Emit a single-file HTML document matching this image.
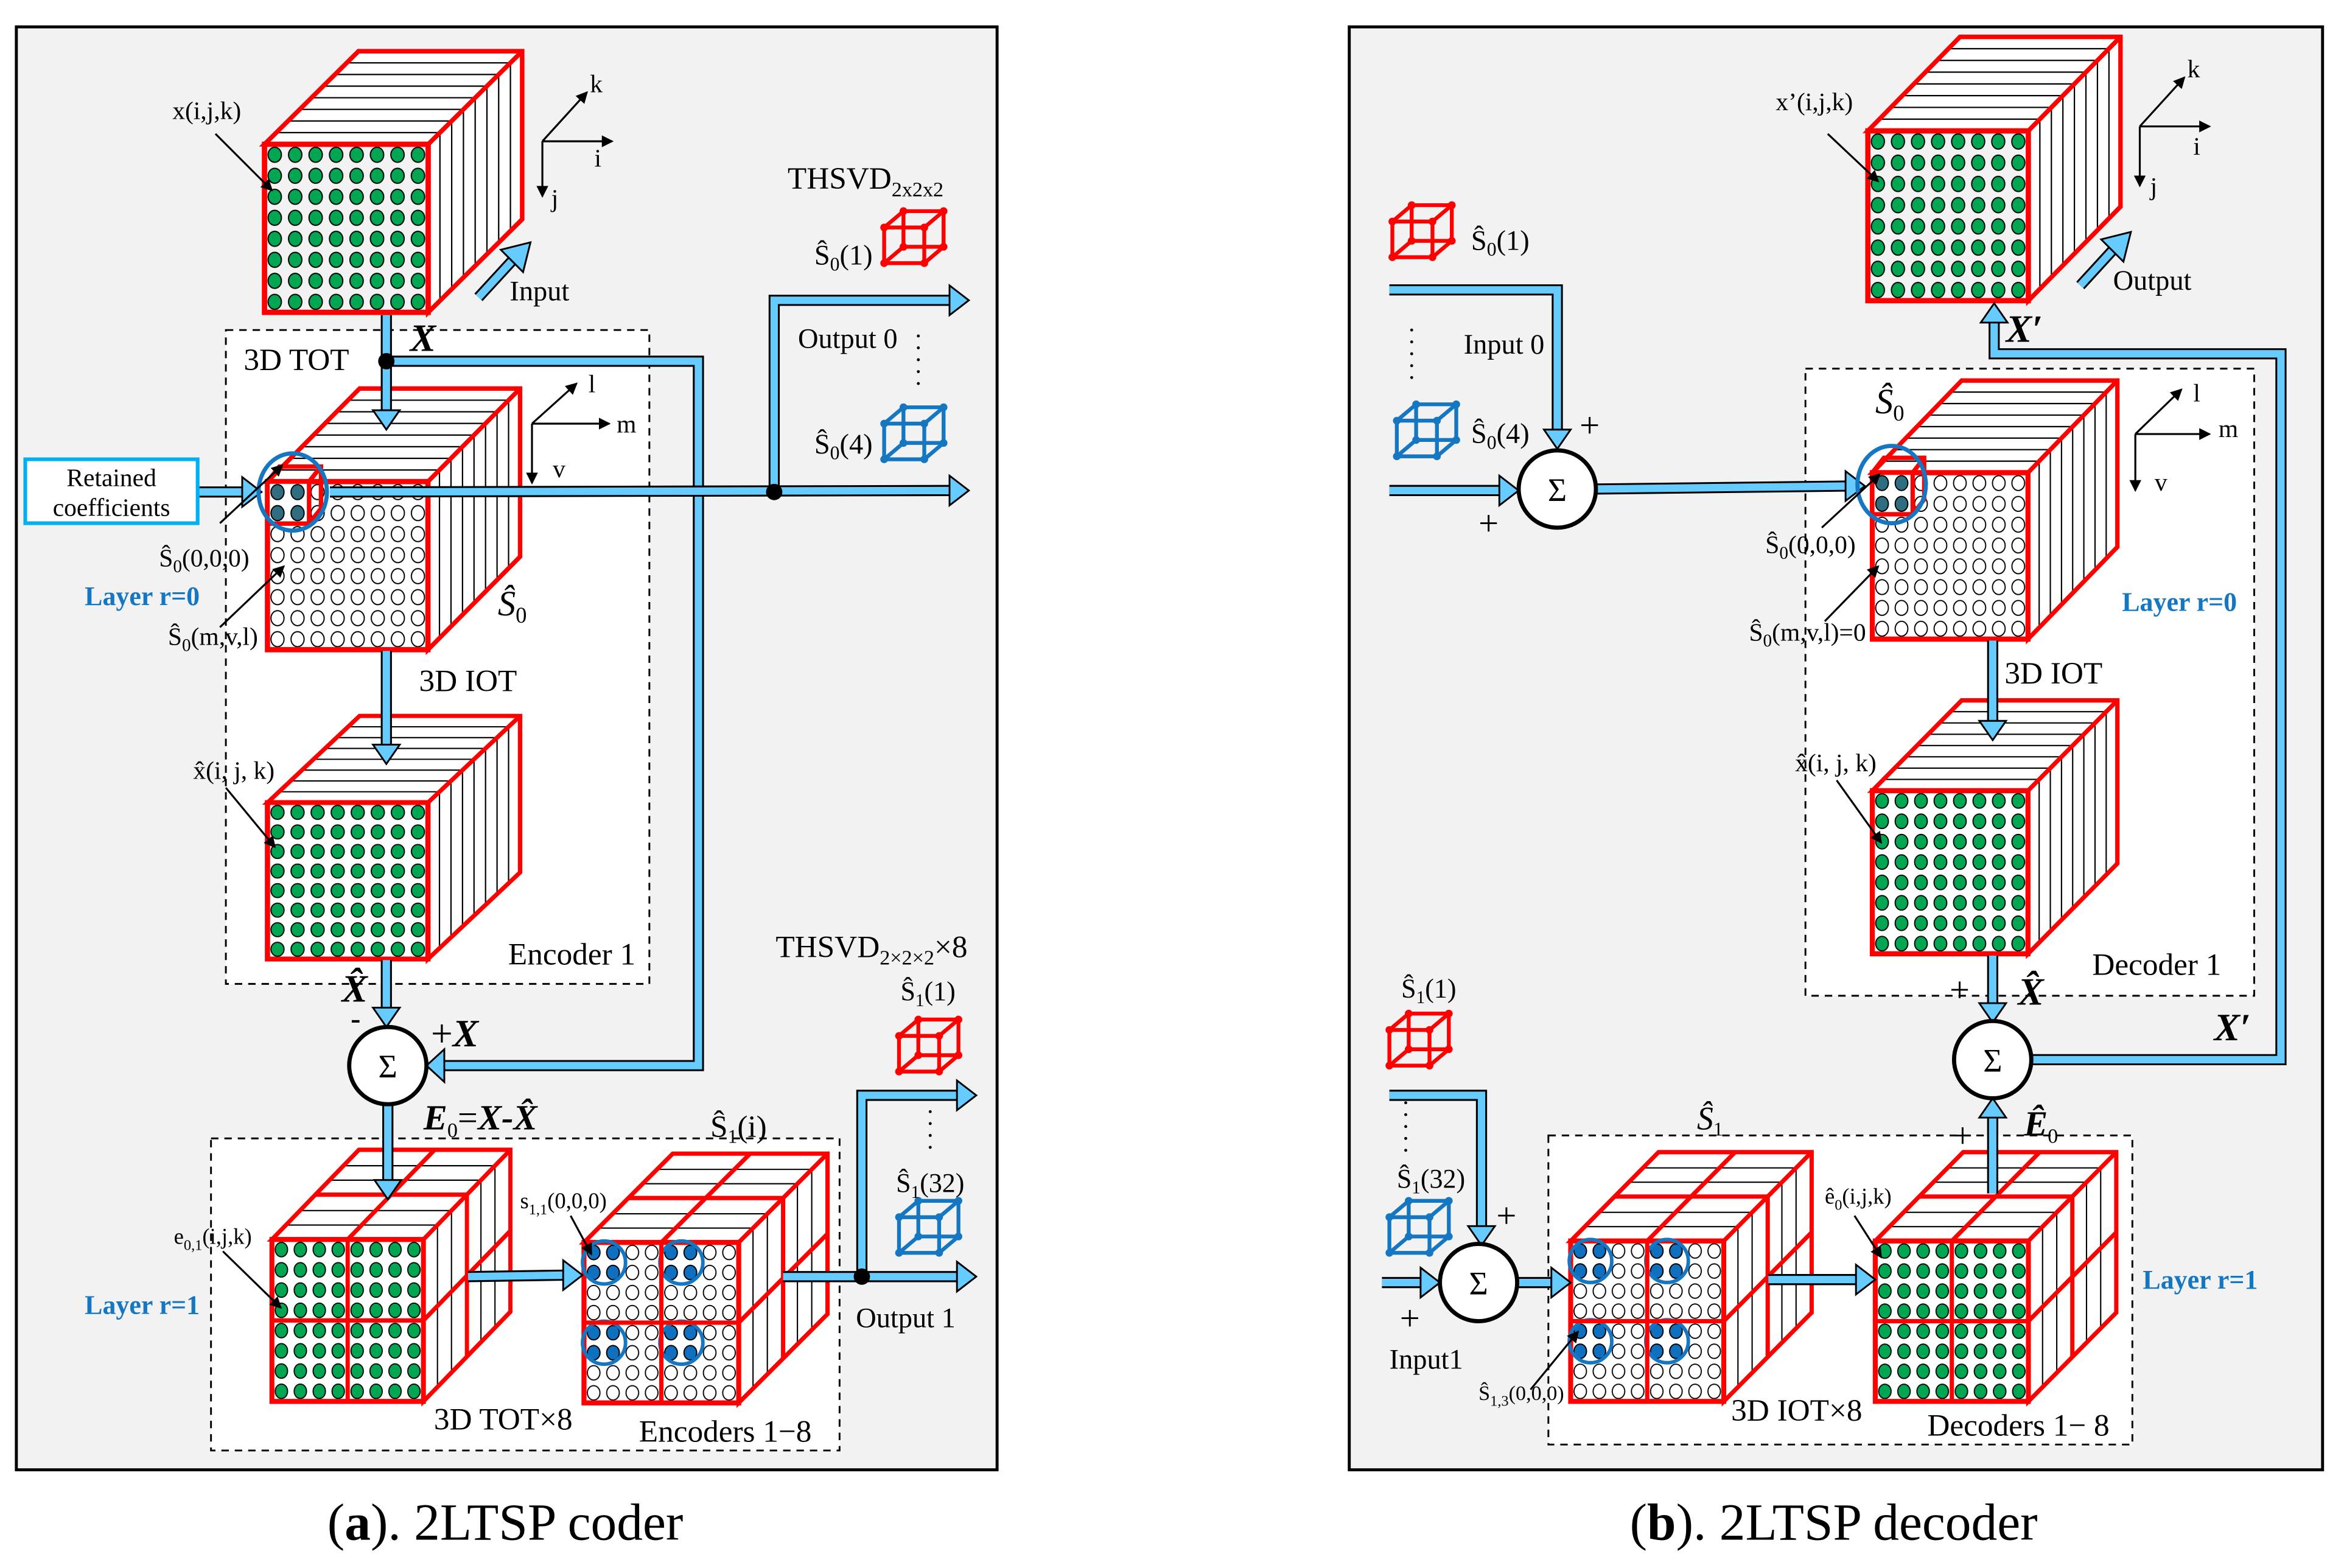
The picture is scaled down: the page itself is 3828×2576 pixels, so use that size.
<!DOCTYPE html>
<html><head><meta charset="utf-8">
<style>
html,body{margin:0;padding:0;background:#fff;}
svg{display:block;}
text{font-family:"Liberation Serif",serif;fill:#000;}
.b1{fill:none;stroke:#000;stroke-width:7.5;stroke-linejoin:miter;}
.b2{fill:none;stroke:#66ccff;stroke-width:5;stroke-linejoin:miter;}
.hd{fill:#66ccff;stroke:#000;stroke-width:1.2;}
.red{stroke:#f00;stroke-width:3;fill:none;}
.sl{stroke:#000;stroke-width:0.9;}
.it{font-style:italic;font-weight:bold;}
.blue{fill:#1577c2;font-weight:bold;}
</style></head>
<body>
<svg width="3828" height="2576" viewBox="0 0 1568 1055" xmlns="http://www.w3.org/2000/svg">
<defs>
<pattern id="pg" width="13.5" height="14" patternUnits="userSpaceOnUse">
<ellipse cx="6.75" cy="7" rx="4.4" ry="5" fill="#00a651" stroke="#000" stroke-width="0.8"/></pattern>
<pattern id="pw" width="13.5" height="14" patternUnits="userSpaceOnUse">
<ellipse cx="6.75" cy="7" rx="4.4" ry="5" fill="#fff" stroke="#000" stroke-width="0.8"/></pattern>
<g id="body">
<polygon points="108,0 170,-62 170,50 108,112" fill="#fff"/>
<polygon points="0,0 62,-62 170,-62 108,0" fill="#fff"/>
<g class="sl">
<line x1="7.75" y1="-7.75" x2="115.75" y2="-7.75"/><line x1="15.5" y1="-15.5" x2="123.5" y2="-15.5"/>
<line x1="23.25" y1="-23.25" x2="131.25" y2="-23.25"/><line x1="31" y1="-31" x2="139" y2="-31"/>
<line x1="38.75" y1="-38.75" x2="146.75" y2="-38.75"/><line x1="46.5" y1="-46.5" x2="154.5" y2="-46.5"/>
<line x1="54.25" y1="-54.25" x2="162.25" y2="-54.25"/>
<line x1="115.75" y1="-7.75" x2="115.75" y2="104.25"/><line x1="123.5" y1="-15.5" x2="123.5" y2="96.5"/>
<line x1="131.25" y1="-23.25" x2="131.25" y2="88.75"/><line x1="139" y1="-31" x2="139" y2="81"/>
<line x1="146.75" y1="-38.75" x2="146.75" y2="73.25"/><line x1="154.5" y1="-46.5" x2="154.5" y2="65.5"/>
<line x1="162.25" y1="-54.25" x2="162.25" y2="57.75"/>
</g>
<polygon class="red" points="0,0 62,-62 170,-62 170,50 108,112 108,0"/>
<line class="red" x1="108" y1="0" x2="170" y2="-62"/>
</g>
<g id="cg"><use href="#body"/><rect x="0" y="0" width="108" height="112" fill="url(#pg)" stroke="#f00" stroke-width="3.5"/></g>
<g id="cs"><use href="#body"/><rect x="0" y="0" width="108" height="112" fill="url(#pw)" stroke="#f00" stroke-width="3.5"/>
<rect x="1" y="1" width="26" height="27" fill="#fff"/>
<g fill="#2e6e80" stroke="#000" stroke-width="0.8">
<ellipse cx="6.75" cy="7" rx="4.4" ry="5"/><ellipse cx="20.25" cy="7" rx="4.4" ry="5"/>
<ellipse cx="6.75" cy="21" rx="4.4" ry="5"/><ellipse cx="20.25" cy="21" rx="4.4" ry="5"/></g>
<polygon class="red" points="0,0 8,-10 36,-10 36,18 28,28 0,28"/>
<line class="red" x1="28" y1="0" x2="28" y2="28"/><line class="red" x1="0" y1="0" x2="28" y2="0"/><line class="red" x1="28" y1="0" x2="36" y2="-10"/>
</g>
<g id="qbody">
<polygon points="108,0 170,-62 170,50 108,112" fill="#fff"/>
<polygon points="0,0 62,-62 170,-62 108,0" fill="#fff"/>
<g class="sl">
<line x1="10" y1="-10" x2="118" y2="-10"/><line x1="20" y1="-20" x2="128" y2="-20"/>
<line x1="41" y1="-41" x2="149" y2="-41"/><line x1="51" y1="-51" x2="159" y2="-51"/>
<line x1="118" y1="-10" x2="118" y2="102"/><line x1="128" y1="-20" x2="128" y2="92"/>
<line x1="149" y1="-41" x2="149" y2="71"/><line x1="159" y1="-51" x2="159" y2="61"/>
</g>
<polygon class="red" points="0,0 62,-62 170,-62 170,50 108,112 108,0"/>
<line class="red" x1="108" y1="0" x2="170" y2="-62"/>
<polyline class="red" points="31,-31 139,-31 139,81"/>
<line class="red" x1="54" y1="0" x2="116" y2="-62"/>
<line class="red" x1="108" y1="56" x2="170" y2="-6"/>
</g>
<g id="qg"><use href="#qbody"/><rect x="0" y="0" width="108" height="112" fill="url(#pg)" stroke="#f00" stroke-width="3.5"/>
<line class="red" x1="54" y1="0" x2="54" y2="112"/><line class="red" x1="0" y1="56" x2="108" y2="56"/></g>
<g id="qw"><use href="#qbody"/><rect x="0" y="0" width="108" height="112" fill="url(#pw)" stroke="#f00" stroke-width="3.5"/>
<g fill="#1070c0" stroke="#000" stroke-width="0.8">
<ellipse cx="6.75" cy="7" rx="4.4" ry="5"/><ellipse cx="20.25" cy="7" rx="4.4" ry="5"/><ellipse cx="6.75" cy="21" rx="4.4" ry="5"/><ellipse cx="20.25" cy="21" rx="4.4" ry="5"/>
<ellipse cx="60.75" cy="7" rx="4.4" ry="5"/><ellipse cx="74.25" cy="7" rx="4.4" ry="5"/><ellipse cx="60.75" cy="21" rx="4.4" ry="5"/><ellipse cx="74.25" cy="21" rx="4.4" ry="5"/>
<ellipse cx="6.75" cy="63" rx="4.4" ry="5"/><ellipse cx="20.25" cy="63" rx="4.4" ry="5"/><ellipse cx="6.75" cy="77" rx="4.4" ry="5"/><ellipse cx="20.25" cy="77" rx="4.4" ry="5"/>
<ellipse cx="60.75" cy="63" rx="4.4" ry="5"/><ellipse cx="74.25" cy="63" rx="4.4" ry="5"/><ellipse cx="60.75" cy="77" rx="4.4" ry="5"/><ellipse cx="74.25" cy="77" rx="4.4" ry="5"/>
</g>
<g fill="none" stroke="#1577c2" stroke-width="2.5">
<ellipse cx="14" cy="14" rx="15" ry="15"/><ellipse cx="68" cy="14" rx="15" ry="15"/>
<ellipse cx="14" cy="70" rx="15" ry="15"/><ellipse cx="68" cy="70" rx="15" ry="15"/></g>
<line class="red" x1="54" y1="0" x2="54" y2="112"/><line class="red" x1="0" y1="56" x2="108" y2="56"/></g>
<g id="wc">
<path fill="none" d="M0,11 H27 V35 H0 Z M13,0 H40 V24 H13 Z M0,11 L13,0 M27,11 L40,0 M27,35 L40,24 M0,35 L13,24" stroke-width="2.6"/>
<g stroke="none"><circle cx="0" cy="11" r="2.6"/><circle cx="27" cy="11" r="2.6"/><circle cx="27" cy="35" r="2.6"/><circle cx="0" cy="35" r="2.6"/>
<circle cx="13" cy="0" r="2.6"/><circle cx="40" cy="0" r="2.6"/><circle cx="40" cy="24" r="2.6"/><circle cx="13" cy="24" r="2.6"/></g>
</g>
<marker id="ah" markerWidth="8" markerHeight="8" refX="7" refY="4" orient="auto" markerUnits="userSpaceOnUse"><path d="M0,0 L8,4 L0,8 Z" fill="#000"/></marker>
</defs>

<rect width="1568" height="1055" fill="#fff"/>
<rect x="11" y="18" width="660" height="971" fill="#f2f2f2" stroke="#000" stroke-width="2"/>
<rect x="908" y="18" width="655" height="971" fill="#f2f2f2" stroke="#000" stroke-width="2"/>
<rect x="152" y="222" width="285" height="440" fill="#fff" stroke="#000" stroke-width="1.2" stroke-dasharray="5,4"/>
<rect x="142" y="766" width="423" height="210" fill="#fff" stroke="#000" stroke-width="1.2" stroke-dasharray="5,4"/>
<rect x="1215" y="248" width="302" height="422" fill="#fff" stroke="#000" stroke-width="1.2" stroke-dasharray="5,4"/>
<rect x="1042" y="764" width="393" height="208" fill="#fff" stroke="#000" stroke-width="1.2" stroke-dasharray="5,4"/>

<!-- ===== PANEL A ===== -->
<use href="#cg" transform="translate(178,97) scale(1.02,1.01)"/>
<use href="#cs" transform="translate(180,324) scale(1,1.01)"/>
<use href="#cg" transform="translate(180,540) scale(1,0.94)"/>
<use href="#qg" transform="translate(183,834) scale(0.944,0.973)"/>
<use href="#qw" transform="translate(393,836) scale(0.964,0.964)"/>

<g>
<polyline class="b1" points="260,212 260,277"/><polyline class="b2" points="260,212 260,277"/>
<polygon class="hd" points="251,276 269,276 260,289"/>
<polyline class="b1" points="260,243 470,243 470,717 298,717"/><polyline class="b2" points="260,243 470,243 470,717 298,717"/>
<polygon class="hd" points="299,706 299,728 287,717"/>
<circle cx="260" cy="243" r="5.5"/>
<polyline class="b1" points="134,331 164,331"/><polyline class="b2" points="134,331 164,331"/>
<polygon class="hd" points="163,321 163,341 176,331"/>
<polyline class="b1" points="222,331 640,330"/><polyline class="b2" points="222,331 640,330"/>
<polygon class="hd" points="639,320 639,340 652,330"/>
<polyline class="b1" points="521,331 521,202 640,202"/><polyline class="b2" points="521,331 521,202 640,202"/>
<polygon class="hd" points="639,192 639,212 652,202"/>
<circle cx="521" cy="331" r="5.5"/>
<polyline class="b1" points="260,438 260,502"/><polyline class="b2" points="260,438 260,502"/>
<polygon class="hd" points="251,501 269,501 260,514"/>
<polyline class="b1" points="260,646 260,679"/><polyline class="b2" points="260,646 260,679"/>
<polygon class="hd" points="251,678 269,678 260,691"/>
<polyline class="b1" points="261,743 261,795"/><polyline class="b2" points="261,743 261,795"/>
<polygon class="hd" points="252,794 270,794 261,807"/>
<polyline class="b1" points="315,859 380,858"/><polyline class="b2" points="315,859 380,858"/>
<polygon class="hd" points="379,848 379,868 392,858"/>
<polyline class="b1" points="527,859 645,859"/><polyline class="b2" points="527,859 645,859"/>
<polygon class="hd" points="644,849 644,869 657,859"/>
<polyline class="b1" points="580,859 580,737 645,737"/><polyline class="b2" points="580,859 580,737 645,737"/>
<polygon class="hd" points="644,727 644,747 657,737"/>
<circle cx="580" cy="859" r="5.5"/>
</g>
<ellipse cx="197" cy="331" rx="23" ry="26" fill="none" stroke="#1577c2" stroke-width="2.8"/>
<circle cx="261" cy="717" r="26" fill="#fff" stroke="#000" stroke-width="2.8"/>
<text x="261" y="725" font-size="22" text-anchor="middle">Σ</text>
<rect x="17" y="309" width="116" height="43" fill="#fff" stroke="#00b0f0" stroke-width="2.5"/>
<text x="75" y="327" font-size="17" text-anchor="middle">Retained</text>
<text x="75" y="347" font-size="17" text-anchor="middle">coefficients</text>

<use href="#wc" transform="translate(595,142)" fill="#f00" stroke="#f00"/>
<use href="#wc" transform="translate(595,274)" fill="#1577c2" stroke="#1577c2"/>
<use href="#wc" transform="translate(605,686)" fill="#f00" stroke="#f00"/>
<use href="#wc" transform="translate(605,808)" fill="#1577c2" stroke="#1577c2"/>
<g fill="#000"><circle cx="618" cy="226" r="1"/><circle cx="618" cy="234" r="1"/><circle cx="618" cy="242" r="1"/><circle cx="618" cy="250" r="1"/><circle cx="618" cy="258" r="1"/>
<circle cx="626" cy="748" r="1"/><circle cx="626" cy="756" r="1"/><circle cx="626" cy="764" r="1"/><circle cx="626" cy="772" r="1"/></g>

<g stroke="#000" stroke-width="1.3" marker-end="url(#ah)">
<line x1="365" y1="95" x2="395" y2="62"/><line x1="365" y1="95" x2="412" y2="95"/><line x1="365" y1="95" x2="365" y2="132"/>
<line x1="358" y1="285" x2="388" y2="258"/><line x1="358" y1="285" x2="410" y2="285"/><line x1="358" y1="285" x2="358" y2="325"/>
<line x1="145" y1="90" x2="183" y2="128"/>
<line x1="148" y1="352" x2="190" y2="313"/>
<line x1="148" y1="422" x2="191" y2="381"/>
<line x1="152" y1="530" x2="185" y2="570"/>
<line x1="150" y1="842" x2="189" y2="880"/>
<line x1="384" y1="818" x2="398" y2="844"/>
</g>
<line x1="322" y1="200" x2="345" y2="175" stroke="#000" stroke-width="7.5"/>
<line x1="322" y1="200" x2="345" y2="175" stroke="#66ccff" stroke-width="5"/>
<polygon class="hd" points="337,168 357,163 352,183"/>

<g font-size="17">
<text x="116" y="80">x(i,j,k)</text>
<text x="397" y="62">k</text><text x="400" y="112">i</text><text x="371" y="139">j</text>
<text x="343" y="202" font-size="19">Input</text>
<text x="530" y="127" font-size="21">THSVD<tspan font-size="14" dy="5">2x2x2</tspan></text>
<text x="548" y="178" font-size="19">Ŝ<tspan font-size="13" dy="4">0</tspan><tspan dy="-4">(1)</tspan></text>
<text x="537" y="234" font-size="19">Output 0</text>
<text x="548" y="305" font-size="19">Ŝ<tspan font-size="13" dy="4">0</tspan><tspan dy="-4">(4)</tspan></text>
<text x="164" y="249" font-size="21">3D TOT</text>
<text x="276" y="236" font-size="26" class="it">X</text>
<text x="396" y="264">l</text><text x="415" y="291">m</text><text x="372" y="321">v</text>
<text x="107" y="381">Ŝ<tspan font-size="12" dy="4">0</tspan><tspan dy="-4">(0,0,0)</tspan></text>
<text x="57" y="407" class="blue" font-size="18">Layer r=0</text>
<text x="113" y="434">Ŝ<tspan font-size="12" dy="4">0</tspan><tspan dy="-4">(m,v,l)</tspan></text>
<text x="335" y="414" font-size="24" font-style="italic">Ŝ<tspan font-size="15" dy="5" font-style="normal">0</tspan></text>
<text x="282" y="465" font-size="21">3D IOT</text>
<text x="130" y="524">x̂(i, j, k)</text>
<text x="342" y="649" font-size="21">Encoder 1</text>
<text x="230" y="674" font-size="26" class="it">X̂</text>
<text x="236" y="692" font-size="20" font-weight="bold">-</text>
<text x="290" y="704" font-size="26" class="it"><tspan font-style="normal" font-weight="normal">+</tspan>X</text>
<text x="285" y="760" font-size="24" class="it">E<tspan font-size="14" dy="5" font-weight="normal" font-style="normal">0</tspan><tspan dy="-5" font-weight="normal" font-style="normal">=</tspan>X-X̂</text>
<text x="522" y="644" font-size="21">THSVD<tspan font-size="14" dy="5">2×2×2</tspan><tspan dy="-5">×8</tspan></text>
<text x="606" y="673" font-size="18">Ŝ<tspan font-size="12" dy="4">1</tspan><tspan dy="-4">(1)</tspan></text>
<text x="603" y="802" font-size="18">Ŝ<tspan font-size="12" dy="4">1</tspan><tspan dy="-4">(32)</tspan></text>
<text x="576" y="893" font-size="19">Output 1</text>
<text x="478" y="765" font-size="21">Ŝ<tspan font-size="13" dy="4">1</tspan><tspan dy="-4">(i)</tspan></text>
<text x="117" y="837" font-size="15">e<tspan font-size="10" dy="4">0,1</tspan><tspan dy="-4">(i,j,k)</tspan></text>
<text x="350" y="813" font-size="15">s<tspan font-size="10" dy="4">1,1</tspan><tspan dy="-4">(0,0,0)</tspan></text>
<text x="57" y="884" class="blue" font-size="18">Layer r=1</text>
<text x="292" y="962" font-size="21">3D TOT×8</text>
<text x="430" y="970" font-size="21">Encoders 1−8</text>
</g>

<!-- ===== PANEL B ===== -->
<use href="#cg" transform="translate(1257,88) scale(1,1.02)"/>
<use href="#cs" transform="translate(1260,318) scale(0.97,1)"/>
<use href="#cg" transform="translate(1260,532) scale(0.97,0.98)"/>
<use href="#qw" transform="translate(1057,835) scale(0.954,0.964)"/>
<use href="#qg" transform="translate(1262,835) scale(0.954,0.964)"/>

<g>
<polyline class="b1" points="935,195 1048,195 1048,290"/><polyline class="b2" points="935,195 1048,195 1048,290"/>
<polygon class="hd" points="1039,289 1057,289 1048,302"/>
<polyline class="b1" points="935,330 1010,330"/><polyline class="b2" points="935,330 1010,330"/>
<polygon class="hd" points="1009,320 1009,340 1022,330"/>
<polyline class="b1" points="1074,329 1243,327"/><polyline class="b2" points="1074,329 1243,327"/>
<polygon class="hd" points="1242,317 1242,337 1255,327"/>
<polyline class="b1" points="1342,216 1342,238 1535,238 1535,713 1367,713"/><polyline class="b2" points="1342,216 1342,238 1535,238 1535,713 1367,713"/>
<polygon class="hd" points="1333,217 1351,217 1342,204"/>
<polyline class="b1" points="1341,431 1341,486"/><polyline class="b2" points="1341,431 1341,486"/>
<polygon class="hd" points="1332,485 1350,485 1341,498"/>
<polyline class="b1" points="1341,643 1341,676"/><polyline class="b2" points="1341,643 1341,676"/>
<polygon class="hd" points="1332,675 1350,675 1341,688"/>
<polyline class="b1" points="1341,803 1341,751"/><polyline class="b2" points="1341,803 1341,751"/>
<polygon class="hd" points="1332,752 1350,752 1341,739"/>
<polyline class="b1" points="935,737 997,737 997,826"/><polyline class="b2" points="935,737 997,737 997,826"/>
<polygon class="hd" points="988,825 1006,825 997,838"/>
<polyline class="b1" points="930,863 957,863"/><polyline class="b2" points="930,863 957,863"/>
<polygon class="hd" points="956,853 956,873 969,863"/>
<polyline class="b1" points="1021,863 1045,863"/><polyline class="b2" points="1021,863 1045,863"/>
<polygon class="hd" points="1044,853 1044,873 1057,863"/>
<polyline class="b1" points="1190,861 1250,861"/><polyline class="b2" points="1190,861 1250,861"/>
<polygon class="hd" points="1249,851 1249,871 1262,861"/>
</g>
<ellipse cx="1273" cy="326" rx="23" ry="26" fill="none" stroke="#1577c2" stroke-width="2.8"/>
<circle cx="1048" cy="329" r="26" fill="#fff" stroke="#000" stroke-width="2.8"/>
<text x="1048" y="337" font-size="22" text-anchor="middle">Σ</text>
<circle cx="1341" cy="713" r="26" fill="#fff" stroke="#000" stroke-width="2.8"/>
<text x="1341" y="721" font-size="22" text-anchor="middle">Σ</text>
<circle cx="995" cy="863" r="26" fill="#fff" stroke="#000" stroke-width="2.8"/>
<text x="995" y="871" font-size="22" text-anchor="middle">Σ</text>

<use href="#wc" transform="translate(937,138)" fill="#f00" stroke="#f00"/>
<use href="#wc" transform="translate(940,272)" fill="#1577c2" stroke="#1577c2"/>
<use href="#wc" transform="translate(935,682)" fill="#f00" stroke="#f00"/>
<use href="#wc" transform="translate(935,808)" fill="#1577c2" stroke="#1577c2"/>
<g fill="#000"><circle cx="950" cy="222" r="1"/><circle cx="950" cy="230" r="1"/><circle cx="950" cy="238" r="1"/><circle cx="950" cy="246" r="1"/><circle cx="950" cy="254" r="1"/>
<circle cx="946" cy="742" r="1"/><circle cx="946" cy="750" r="1"/><circle cx="946" cy="758" r="1"/><circle cx="946" cy="766" r="1"/><circle cx="946" cy="774" r="1"/></g>

<g stroke="#000" stroke-width="1.3" marker-end="url(#ah)">
<line x1="1440" y1="85" x2="1470" y2="52"/><line x1="1440" y1="85" x2="1487" y2="85"/><line x1="1440" y1="85" x2="1440" y2="125"/>
<line x1="1437" y1="292" x2="1468" y2="262"/><line x1="1437" y1="292" x2="1487" y2="292"/><line x1="1437" y1="292" x2="1437" y2="330"/>
<line x1="1230" y1="90" x2="1264" y2="122"/>
<line x1="1226" y1="355" x2="1265" y2="319"/>
<line x1="1228" y1="418" x2="1264" y2="381"/>
<line x1="1236" y1="525" x2="1266" y2="567"/>
<line x1="1248" y1="818" x2="1266" y2="846"/>
<line x1="1030" y1="935" x2="1062" y2="896"/>
</g>
<line x1="1400" y1="192" x2="1422" y2="168" stroke="#000" stroke-width="7.5"/>
<line x1="1400" y1="192" x2="1422" y2="168" stroke="#66ccff" stroke-width="5"/>
<polygon class="hd" points="1414,161 1434,156 1429,176"/>

<g font-size="17">
<text x="1195" y="74">x’(i,j,k)</text>
<text x="1472" y="52">k</text><text x="1476" y="104">i</text><text x="1447" y="131">j</text>
<text x="1422" y="195" font-size="19">Output</text>
<text x="1350" y="230" font-size="26" class="it">X′</text>
<text x="990" y="168" font-size="19">Ŝ<tspan font-size="13" dy="4">0</tspan><tspan dy="-4">(1)</tspan></text>
<text x="985" y="238" font-size="19">Input 0</text>
<text x="990" y="298" font-size="19">Ŝ<tspan font-size="13" dy="4">0</tspan><tspan dy="-4">(4)</tspan></text>
<text x="1063" y="294" font-size="24">+</text>
<text x="995" y="360" font-size="24">+</text>
<text x="1262" y="278" font-size="24" font-style="italic">Ŝ<tspan font-size="15" dy="5" font-style="normal">0</tspan></text>
<text x="1476" y="270">l</text><text x="1493" y="294">m</text><text x="1450" y="330">v</text>
<text x="1188" y="372">Ŝ<tspan font-size="12" dy="4">0</tspan><tspan dy="-4">(0,0,0)</tspan></text>
<text x="1428" y="411" class="blue" font-size="18">Layer r=0</text>
<text x="1177" y="431">Ŝ<tspan font-size="12" dy="4">0</tspan><tspan dy="-4">(m,v,l)=0</tspan></text>
<text x="1349" y="460" font-size="21">3D IOT</text>
<text x="1208" y="519">x̂(i, j, k)</text>
<text x="1408" y="656" font-size="21">Decoder 1</text>
<text x="1312" y="674" font-size="24">+</text>
<text x="1358" y="676" font-size="26" class="it">X̂</text>
<text x="1490" y="700" font-size="26" class="it">X′</text>
<text x="943" y="671" font-size="18">Ŝ<tspan font-size="12" dy="4">1</tspan><tspan dy="-4">(1)</tspan></text>
<text x="940" y="799" font-size="18">Ŝ<tspan font-size="12" dy="4">1</tspan><tspan dy="-4">(32)</tspan></text>
<text x="1007" y="826" font-size="24">+</text>
<text x="942" y="895" font-size="24">+</text>
<text x="935" y="921" font-size="19">Input1</text>
<text x="1142" y="760" font-size="22" font-style="italic">Ŝ<tspan font-size="13" dy="4" font-style="normal">1</tspan></text>
<text x="1314" y="772" font-size="24">+</text>
<text x="1362" y="764" font-size="24" class="it">Ê<tspan font-size="14" dy="5" font-style="normal" font-weight="normal">0</tspan></text>
<text x="1228" y="810" font-size="15">ê<tspan font-size="10" dy="4">0</tspan><tspan dy="-4">(i,j,k)</tspan></text>
<text x="1442" y="867" class="blue" font-size="18">Layer r=1</text>
<text x="995" y="942" font-size="14">Ŝ<tspan font-size="10" dy="4">1,3</tspan><tspan dy="-4">(0,0,0)</tspan></text>
<text x="1165" y="956" font-size="21">3D IOT×8</text>
<text x="1297" y="966" font-size="21">Decoders 1− 8</text>
</g>

<text x="340" y="1036" font-size="35" text-anchor="middle">(<tspan font-weight="bold">a</tspan>). 2LTSP coder</text>
<text x="1234" y="1036" font-size="35" text-anchor="middle">(<tspan font-weight="bold">b</tspan>). 2LTSP decoder</text>
</svg>
</body></html>
